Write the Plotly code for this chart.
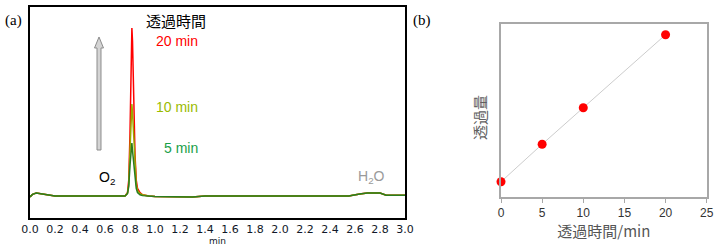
import plotly.graph_objects as go

W, H = 721, 249

# ---- Panel (a): chromatogram data (time in min, detector signal in arbitrary units) ----
time_min = [0.00, 0.02, 0.05, 0.10, 0.15, 0.20, 0.50, 0.76, 0.78, 0.79, 0.80, 0.81, 0.815,
            0.82, 0.83, 0.84, 0.85, 0.86, 0.88, 0.90, 0.95, 1.00, 1.30, 1.40, 2.55, 2.60,
            2.65, 2.70, 2.80, 2.85, 3.00]
signal_20min = [10.0, 11.2, 11.8, 11.4, 11.0, 10.4, 10.4, 10.4, 12.0, 18.0, 40.0, 82.0, 90.0,
                84.0, 55.0, 30.0, 18.0, 14.0, 12.0, 11.0, 10.4, 10.2, 10.0, 10.4, 10.4, 11.0,
                11.5, 11.8, 11.8, 10.8, 10.8]
signal_10min = [10.0, 11.2, 11.8, 11.4, 11.0, 10.4, 10.4, 10.4, 11.8, 16.0, 32.0, 50.0, 54.0,
                50.0, 36.0, 24.0, 16.0, 13.0, 11.5, 11.0, 10.4, 10.2, 10.0, 10.4, 10.4, 11.0,
                11.5, 11.8, 11.8, 10.8, 10.8]
signal_5min = [10.0, 11.2, 11.8, 11.4, 11.0, 10.4, 10.4, 10.4, 11.5, 15.0, 25.0, 33.0, 35.5,
               32.0, 25.0, 18.0, 14.0, 12.0, 11.0, 10.6, 10.4, 10.2, 10.0, 10.4, 10.4, 11.0,
               11.5, 11.8, 11.8, 10.8, 10.8]
a_xticks = [0.0, 0.2, 0.4, 0.6, 0.8, 1.0, 1.2, 1.4, 1.6, 1.8, 2.0, 2.2, 2.4, 2.6, 2.8, 3.0]

# ---- Panel (b): permeated amount vs permeation time ----
perm_time = [0, 5, 10, 20]
perm_amount = [0.88, 3.05, 5.16, 9.38]
b_xticks = [0, 5, 10, 15, 20, 25]

fig = go.Figure()

for ys, col in [(signal_20min, "#ff0000"), (signal_10min, "#9aaa00"), (signal_5min, "#2a7d1e")]:
    fig.add_trace(go.Scatter(x=time_min, y=ys, mode="lines", line=dict(color=col, width=1.5),
                             xaxis="x", yaxis="y", showlegend=False, hoverinfo="skip"))

fig.add_trace(go.Scatter(x=perm_time, y=perm_amount, mode="lines+markers",
                         line=dict(color="#cccccc", width=1),
                         marker=dict(color="#ff0000", size=9),
                         cliponaxis=False, xaxis="x2", yaxis="y2", showlegend=False))

def px(x):
    return x / W

def py(y):
    return 1 - y / H

fig.update_layout(
    width=W, height=H, margin=dict(l=0, r=0, t=0, b=0, autoexpand=False),
    paper_bgcolor="white", plot_bgcolor="white",
    xaxis=dict(domain=[px(30), px(405)], range=[0, 3.0], tickvals=a_xticks, tickformat=".1f",
               showline=True, linecolor="black", linewidth=2, mirror=True, showgrid=False,
               zeroline=False, ticks="", automargin=False,
               tickfont=dict(family="DejaVu Sans", size=11, color="#101828"),
               title=dict(text="min", font=dict(family="DejaVu Sans", size=9, color="#101828"),
                          standoff=2)),
    yaxis=dict(domain=[py(218), py(7)], range=[0, 100], showticklabels=False, showline=True,
               linecolor="black", linewidth=2, mirror=True, showgrid=False, zeroline=False,
               ticks="", automargin=False),
    xaxis2=dict(domain=[px(501), px(706.7)], range=[0, 25], tickvals=b_xticks, showline=True,
                linecolor="#a8a8a8", linewidth=2, mirror=True, showgrid=False, zeroline=False,
                ticks="outside", ticklen=4, tickcolor="#a8a8a8", automargin=False,
                tickfont=dict(family="Liberation Sans", size=12, color="#333333"),
                anchor="y2",
                title=dict(text="透過時間/min", font=dict(family="Noto Sans CJK JP", size=15, color="#555555"),
                           standoff=6)),
    yaxis2=dict(domain=[py(197), py(24)], range=[0, 10], showticklabels=False, showline=True,
                linecolor="#a8a8a8", linewidth=2, mirror=True, showgrid=False, zeroline=False,
                ticks="", anchor="x2", automargin=False),
)

ann = []
def txt(x, y, t, color="black", size=14, family="Liberation Sans"):
    ann.append(dict(x=px(x), y=py(y), xref="paper", yref="paper", text=t, showarrow=False,
                    xanchor="center", yanchor="middle", font=dict(family=family, size=size, color=color)))

txt(14, 20, "(a)", size=15, family="Liberation Serif")
txt(422, 20, "(b)", size=15, family="Liberation Serif")
txt(176, 20, "透過時間", size=15, family="Noto Sans CJK JP")
txt(177, 41, "20 min", color="#ff0000", size=14)
txt(177, 107, "10 min", color="#9abb00", size=14)
txt(181, 148, "5 min", color="#1aa048", size=14)
txt(107, 178, "O<sub>2</sub>", size=14)
txt(371, 177, "H<sub>2</sub>O", color="#9a9a9a", size=14)
ann.append(dict(x=px(479), y=py(118), xref="paper", yref="paper", text="透過量", showarrow=False,
                textangle=-90, xanchor="center", yanchor="middle",
                font=dict(family="Noto Sans CJK JP", size=15, color="#606060")))
fig.update_layout(annotations=ann)

# decorative upward arrow (outlined, light gray) drawn as a paper-space shape
def P(x, y):
    return f"{px(x):.5f},{py(y):.5f}"

arrow_path = ("M " + P(97, 150) + " L " + P(97, 48) + " L " + P(94.5, 48) + " L " + P(99, 37) +
              " L " + P(103.5, 48) + " L " + P(101, 48) + " L " + P(101, 150) + " Z")
fig.add_shape(type="path", xref="paper", yref="paper", path=arrow_path,
              fillcolor="#d4d4d4", line=dict(color="#8c8c8c", width=1))

fig.write_html("out.html")
